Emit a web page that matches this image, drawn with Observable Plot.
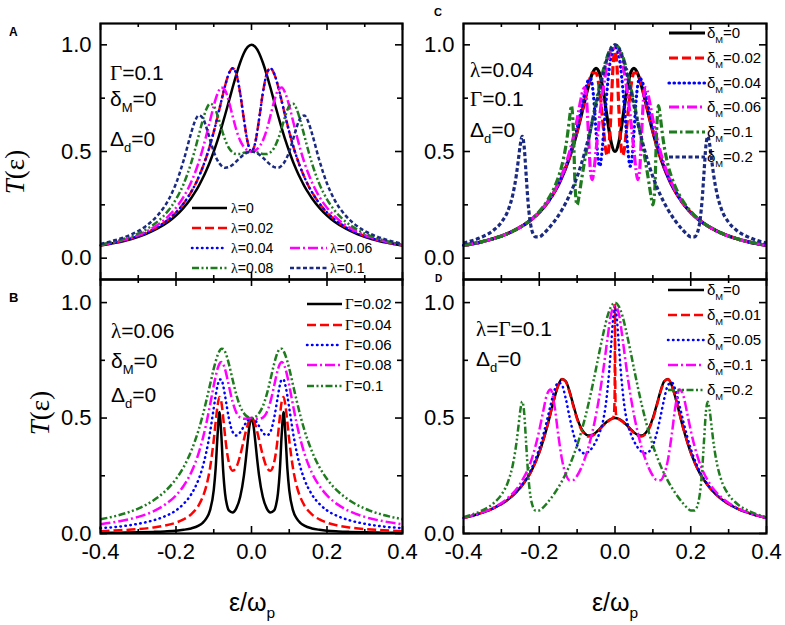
<!DOCTYPE html>
<html><head><meta charset="utf-8">
<script src="https://cdn.jsdelivr.net/npm/d3@7"></script>
<script src="https://cdn.jsdelivr.net/npm/@observablehq/plot@0.6"></script>
<style>
body{margin:0;background:#fff;}
#fig{position:relative;width:785px;height:625px;overflow:hidden;}
#fig svg{position:absolute;}
</style></head><body><div id="fig"></div>
<script>
// ---------- tick values ----------
const xMajor = [-0.4,-0.2,0,0.2,0.4];
const xMinor = [-0.3,-0.1,0.1,0.3];
const yMajor = [0,0.5,1];
const yMinor = [0.25,0.75];

// ---------- panel A (Gamma=0.1, deltaM=0), lambda series ----------
const xA = [-0.4,-0.36,-0.32,-0.28,-0.25,-0.22,-0.2,-0.18,-0.16,-0.15,-0.14,-0.13,-0.12,-0.11,-0.1,-0.09,-0.08,-0.07,-0.06,-0.05,-0.04,-0.03,-0.02,-0.01,0,0.01,0.02,0.03,0.04,0.05,0.06,0.07,0.08,0.09,0.1,0.11,0.12,0.13,0.14,0.15,0.16,0.18,0.2,0.22,0.25,0.28,0.32,0.36,0.4];
const A_lam0 = [0.059,0.072,0.089,0.113,0.138,0.171,0.2,0.236,0.281,0.308,0.338,0.372,0.41,0.452,0.5,0.552,0.61,0.671,0.735,0.8,0.862,0.917,0.962,0.99,1,0.99,0.962,0.917,0.862,0.8,0.735,0.671,0.61,0.552,0.5,0.452,0.41,0.372,0.338,0.308,0.281,0.236,0.2,0.171,0.138,0.113,0.089,0.072,0.059];
const A_lam002 = [0.06,0.073,0.092,0.118,0.145,0.181,0.214,0.256,0.31,0.342,0.38,0.423,0.472,0.528,0.592,0.662,0.736,0.808,0.865,0.89,0.862,0.773,0.65,0.542,0.5,0.542,0.65,0.773,0.862,0.89,0.865,0.808,0.736,0.662,0.592,0.528,0.472,0.423,0.38,0.342,0.31,0.256,0.214,0.181,0.145,0.118,0.092,0.073,0.06];
const A_lam004 = [0.06,0.073,0.092,0.118,0.145,0.181,0.214,0.256,0.31,0.342,0.38,0.423,0.472,0.528,0.592,0.662,0.736,0.808,0.865,0.89,0.862,0.773,0.65,0.542,0.5,0.542,0.65,0.773,0.862,0.89,0.865,0.808,0.736,0.662,0.592,0.528,0.472,0.423,0.38,0.342,0.31,0.256,0.214,0.181,0.145,0.118,0.092,0.073,0.06];
const A_lam006 = [0.062,0.076,0.095,0.124,0.154,0.197,0.236,0.287,0.356,0.399,0.449,0.507,0.573,0.643,0.714,0.771,0.8,0.787,0.735,0.666,0.6,0.551,0.521,0.505,0.5,0.505,0.521,0.551,0.6,0.666,0.735,0.787,0.8,0.771,0.714,0.643,0.573,0.507,0.449,0.399,0.356,0.287,0.236,0.197,0.154,0.124,0.095,0.076,0.062];
const A_lam008 = [0.064,0.079,0.101,0.134,0.17,0.224,0.276,0.347,0.446,0.507,0.574,0.641,0.697,0.724,0.714,0.669,0.61,0.556,0.517,0.496,0.488,0.488,0.494,0.498,0.5,0.498,0.494,0.488,0.488,0.496,0.517,0.556,0.61,0.669,0.714,0.724,0.697,0.641,0.574,0.507,0.446,0.347,0.276,0.224,0.17,0.134,0.101,0.079,0.064];
const A_lam01 = [0.067,0.085,0.11,0.15,0.198,0.273,0.35,0.457,0.586,0.641,0.669,0.659,0.616,0.556,0.5,0.458,0.434,0.424,0.427,0.438,0.454,0.471,0.486,0.496,0.5,0.496,0.486,0.471,0.454,0.438,0.427,0.424,0.434,0.458,0.5,0.556,0.616,0.659,0.669,0.641,0.586,0.457,0.35,0.273,0.198,0.15,0.11,0.085,0.067];

// ---------- panel B (lambda=0.06), Gamma series ----------
const xB = [-0.4,-0.35,-0.3,-0.26,-0.23,-0.2,-0.18,-0.16,-0.14,-0.13,-0.12,-0.11,-0.1,-0.095,-0.09,-0.085,-0.08,-0.075,-0.07,-0.065,-0.06,-0.05,-0.04,-0.03,-0.02,-0.015,-0.01,-0.005,0,0.005,0.01,0.015,0.02,0.03,0.04,0.05,0.06,0.065,0.07,0.075,0.08,0.085,0.09,0.095,0.1,0.11,0.12,0.13,0.14,0.16,0.18,0.2,0.23,0.26,0.3,0.35,0.4];
const B_g002 = [0.0026,0.0035,0.005,0.007,0.009,0.012,0.016,0.022,0.034,0.045,0.064,0.1,0.188,0.281,0.424,0.526,0.429,0.271,0.173,0.123,0.1,0.091,0.11,0.158,0.252,0.321,0.4,0.471,0.5,0.471,0.4,0.321,0.252,0.158,0.11,0.091,0.1,0.123,0.173,0.271,0.429,0.526,0.424,0.281,0.188,0.1,0.064,0.045,0.034,0.022,0.016,0.012,0.009,0.007,0.005,0.0035,0.0026];
const B_g004 = [0.01,0.014,0.019,0.026,0.034,0.047,0.061,0.083,0.122,0.155,0.204,0.282,0.405,0.482,0.553,0.591,0.571,0.503,0.422,0.354,0.308,0.272,0.288,0.338,0.407,0.442,0.472,0.493,0.5,0.493,0.472,0.442,0.407,0.338,0.288,0.272,0.308,0.354,0.422,0.503,0.571,0.591,0.553,0.482,0.405,0.282,0.204,0.155,0.122,0.083,0.061,0.047,0.034,0.026,0.019,0.014,0.01];
const B_g006 = [0.023,0.03,0.042,0.057,0.074,0.1,0.128,0.169,0.235,0.284,0.35,0.437,0.543,0.596,0.64,0.666,0.667,0.641,0.596,0.546,0.5,0.44,0.424,0.438,0.465,0.479,0.49,0.497,0.5,0.497,0.49,0.479,0.465,0.438,0.424,0.44,0.5,0.546,0.596,0.641,0.667,0.666,0.64,0.596,0.543,0.437,0.35,0.284,0.235,0.169,0.128,0.1,0.074,0.057,0.042,0.03,0.023];
const B_g008 = [0.04,0.053,0.072,0.096,0.124,0.165,0.206,0.263,0.348,0.405,0.474,0.555,0.641,0.68,0.713,0.735,0.743,0.734,0.711,0.678,0.64,0.57,0.523,0.502,0.497,0.497,0.499,0.5,0.5,0.5,0.499,0.497,0.497,0.502,0.523,0.57,0.64,0.678,0.711,0.734,0.743,0.735,0.713,0.68,0.641,0.555,0.474,0.405,0.348,0.263,0.206,0.165,0.124,0.096,0.072,0.053,0.04];
const B_g01 = [0.062,0.08,0.108,0.143,0.181,0.236,0.287,0.356,0.449,0.507,0.573,0.643,0.714,0.745,0.771,0.79,0.8,0.799,0.787,0.765,0.735,0.666,0.6,0.551,0.521,0.511,0.505,0.501,0.5,0.501,0.505,0.511,0.521,0.551,0.6,0.666,0.735,0.765,0.787,0.799,0.8,0.79,0.771,0.745,0.714,0.643,0.573,0.507,0.449,0.356,0.287,0.236,0.181,0.143,0.108,0.08,0.062];

// ---------- panel C (lambda=0.04, Gamma=0.1), deltaM series ----------
const C_d0 = A_lam004.slice();
const xC002 = [-0.4,-0.36,-0.32,-0.28,-0.25,-0.22,-0.2,-0.18,-0.16,-0.14,-0.12,-0.11,-0.1,-0.09,-0.08,-0.07,-0.06,-0.05,-0.04,-0.03,-0.025,-0.02,-0.015,-0.01,-0.005,0,0.005,0.01,0.015,0.02,0.025,0.03,0.04,0.05,0.06,0.07,0.08,0.09,0.1,0.11,0.12,0.14,0.16,0.18,0.2,0.22,0.25,0.28,0.32,0.36,0.4];
const C_d002 = [0.06,0.073,0.092,0.118,0.145,0.182,0.214,0.256,0.31,0.381,0.474,0.531,0.596,0.668,0.744,0.816,0.868,0.868,0.777,0.597,0.513,0.481,0.543,0.707,0.906,0.97,0.906,0.707,0.543,0.481,0.513,0.597,0.777,0.868,0.868,0.816,0.744,0.668,0.596,0.531,0.474,0.381,0.31,0.256,0.214,0.182,0.145,0.118,0.092,0.073,0.06];
const xC004 = [-0.4,-0.36,-0.32,-0.28,-0.25,-0.22,-0.2,-0.18,-0.16,-0.14,-0.12,-0.11,-0.1,-0.09,-0.08,-0.07,-0.065,-0.06,-0.055,-0.05,-0.045,-0.04,-0.035,-0.03,-0.025,-0.02,-0.01,0,0.01,0.02,0.025,0.03,0.035,0.04,0.045,0.05,0.055,0.06,0.065,0.07,0.08,0.09,0.1,0.11,0.12,0.14,0.16,0.18,0.2,0.22,0.25,0.28,0.32,0.36,0.4];
const C_d004 = [0.06,0.073,0.092,0.118,0.145,0.182,0.215,0.257,0.312,0.384,0.481,0.542,0.612,0.69,0.772,0.836,0.842,0.81,0.724,0.59,0.468,0.431,0.487,0.591,0.704,0.806,0.951,0.99,0.951,0.806,0.704,0.591,0.487,0.431,0.468,0.59,0.724,0.81,0.842,0.836,0.772,0.69,0.612,0.542,0.481,0.384,0.312,0.257,0.215,0.182,0.145,0.118,0.092,0.073,0.06];
const xC006 = [-0.4,-0.36,-0.32,-0.28,-0.25,-0.22,-0.2,-0.18,-0.16,-0.14,-0.12,-0.11,-0.1,-0.09,-0.085,-0.08,-0.075,-0.07,-0.065,-0.06,-0.055,-0.05,-0.04,-0.03,-0.02,-0.01,0,0.01,0.02,0.03,0.04,0.05,0.055,0.06,0.065,0.07,0.075,0.08,0.085,0.09,0.1,0.11,0.12,0.14,0.16,0.18,0.2,0.22,0.25,0.28,0.32,0.36,0.4];
const C_d006 = [0.06,0.073,0.092,0.118,0.145,0.182,0.216,0.259,0.315,0.391,0.497,0.566,0.65,0.745,0.785,0.799,0.74,0.58,0.413,0.368,0.42,0.504,0.671,0.808,0.912,0.978,0.985,0.978,0.912,0.808,0.671,0.504,0.42,0.368,0.413,0.58,0.74,0.799,0.785,0.745,0.65,0.566,0.497,0.391,0.315,0.259,0.216,0.182,0.145,0.118,0.092,0.073,0.06];
const xC01 = [-0.4,-0.36,-0.32,-0.28,-0.25,-0.22,-0.2,-0.18,-0.16,-0.15,-0.14,-0.13,-0.125,-0.12,-0.115,-0.11,-0.105,-0.1,-0.095,-0.09,-0.08,-0.07,-0.06,-0.05,-0.04,-0.03,-0.02,-0.01,0,0.01,0.02,0.03,0.04,0.05,0.06,0.07,0.08,0.09,0.095,0.1,0.105,0.11,0.115,0.12,0.125,0.13,0.14,0.15,0.16,0.18,0.2,0.22,0.25,0.28,0.32,0.36,0.4];
const C_d01 = [0.06,0.074,0.092,0.118,0.146,0.184,0.219,0.266,0.332,0.377,0.436,0.523,0.583,0.657,0.715,0.602,0.322,0.25,0.291,0.349,0.458,0.553,0.644,0.731,0.814,0.888,0.948,0.987,1,0.987,0.948,0.888,0.814,0.731,0.644,0.553,0.458,0.349,0.291,0.25,0.322,0.602,0.715,0.657,0.583,0.523,0.436,0.377,0.332,0.266,0.219,0.184,0.146,0.118,0.092,0.074,0.06];
const x02 = [-0.4,-0.36,-0.32,-0.3,-0.28,-0.27,-0.26,-0.255,-0.25,-0.245,-0.24,-0.235,-0.23,-0.22,-0.21,-0.2,-0.19,-0.18,-0.16,-0.14,-0.12,-0.1,-0.09,-0.08,-0.07,-0.06,-0.05,-0.04,-0.03,-0.02,-0.01,0,0.01,0.02,0.03,0.04,0.05,0.06,0.07,0.08,0.09,0.1,0.12,0.14,0.16,0.18,0.19,0.2,0.21,0.22,0.23,0.235,0.24,0.245,0.25,0.255,0.26,0.27,0.28,0.3,0.32,0.36,0.4];
const C_d02 = [0.071,0.093,0.132,0.168,0.235,0.296,0.395,0.463,0.533,0.571,0.526,0.401,0.272,0.134,0.1,0.1,0.112,0.13,0.173,0.227,0.295,0.382,0.435,0.495,0.562,0.636,0.715,0.796,0.873,0.94,0.984,1,0.984,0.94,0.873,0.796,0.715,0.636,0.562,0.495,0.435,0.382,0.295,0.227,0.173,0.13,0.112,0.1,0.1,0.134,0.272,0.401,0.526,0.571,0.533,0.463,0.395,0.296,0.235,0.168,0.132,0.093,0.071];

// ---------- panel D (lambda=Gamma=0.1), deltaM series ----------
const D_d0 = A_lam01.slice();
const xD001 = [-0.4,-0.36,-0.32,-0.28,-0.25,-0.22,-0.2,-0.18,-0.16,-0.15,-0.14,-0.13,-0.12,-0.11,-0.1,-0.09,-0.08,-0.07,-0.06,-0.05,-0.04,-0.03,-0.02,-0.015,-0.01,-0.005,-0.003,-0.001,-0.0005,0,0.0005,0.001,0.003,0.005,0.01,0.015,0.02,0.03,0.04,0.05,0.06,0.07,0.08,0.09,0.1,0.11,0.12,0.13,0.14,0.15,0.16,0.18,0.2,0.22,0.25,0.28,0.32,0.36,0.4];
const D_d001 = [0.067,0.085,0.11,0.15,0.198,0.273,0.351,0.458,0.587,0.641,0.668,0.657,0.612,0.551,0.495,0.453,0.429,0.42,0.423,0.435,0.451,0.468,0.484,0.49,0.495,0.502,0.511,0.598,0.748,0.99,0.748,0.598,0.511,0.502,0.495,0.49,0.484,0.468,0.451,0.435,0.423,0.42,0.429,0.453,0.495,0.551,0.612,0.657,0.668,0.641,0.587,0.458,0.351,0.273,0.198,0.15,0.11,0.085,0.067];
const xD005 = [-0.4,-0.36,-0.32,-0.28,-0.25,-0.22,-0.2,-0.18,-0.17,-0.16,-0.15,-0.14,-0.13,-0.12,-0.11,-0.1,-0.09,-0.08,-0.07,-0.06,-0.055,-0.05,-0.045,-0.04,-0.035,-0.03,-0.025,-0.02,-0.015,-0.01,-0.005,0,0.005,0.01,0.015,0.02,0.025,0.03,0.035,0.04,0.045,0.05,0.055,0.06,0.07,0.08,0.09,0.1,0.11,0.12,0.13,0.14,0.15,0.16,0.17,0.18,0.2,0.22,0.25,0.28,0.32,0.36,0.4];
const D_d005 = [0.067,0.085,0.111,0.152,0.201,0.282,0.367,0.487,0.556,0.619,0.654,0.643,0.584,0.505,0.433,0.382,0.355,0.347,0.354,0.372,0.385,0.4,0.418,0.44,0.465,0.5,0.55,0.62,0.71,0.82,0.93,0.985,0.93,0.82,0.71,0.62,0.55,0.5,0.465,0.44,0.418,0.4,0.385,0.372,0.354,0.347,0.355,0.382,0.433,0.505,0.584,0.643,0.654,0.619,0.556,0.487,0.367,0.282,0.201,0.152,0.111,0.085,0.067];
const xD01 = [-0.4,-0.36,-0.32,-0.28,-0.25,-0.22,-0.2,-0.19,-0.18,-0.17,-0.16,-0.15,-0.14,-0.13,-0.12,-0.11,-0.1,-0.09,-0.08,-0.07,-0.06,-0.05,-0.04,-0.03,-0.02,-0.01,0,0.01,0.02,0.03,0.04,0.05,0.06,0.07,0.08,0.09,0.1,0.11,0.12,0.13,0.14,0.15,0.16,0.17,0.18,0.19,0.2,0.22,0.25,0.28,0.32,0.36,0.4];
const D_d01 = [0.068,0.086,0.113,0.158,0.216,0.322,0.446,0.526,0.6,0.624,0.556,0.43,0.321,0.257,0.231,0.232,0.25,0.281,0.323,0.374,0.438,0.515,0.608,0.719,0.843,0.953,0.985,0.953,0.843,0.719,0.608,0.515,0.438,0.374,0.323,0.281,0.25,0.232,0.231,0.257,0.321,0.43,0.556,0.624,0.6,0.526,0.446,0.322,0.216,0.158,0.113,0.086,0.068];
const D_d02 = C_d02.slice();

// ---------- styles ----------
const SANS = "Liberation Sans, Arial, Helvetica, sans-serif";
const SERIF = "Liberation Serif, Times New Roman, serif";
const ST = {
  black:{color:"#000000", dash:null},
  red:{color:"#ff0000", dash:"9,4"},
  blue:{color:"#0000ff", dash:"0.5,4.5", cap:"round"},
  mag:{color:"#ff00ff", dash:"10,3,2,3"},
  grn3:{color:"#1e7b1e", dash:"7,2.5,2,2.5,2,2.5"},
  grn2:{color:"#1e7b1e", dash:"8,3,2.5,3"},
  navy:{color:"#1a2a80", dash:"4,2.5"}
};

const fig = document.getElementById("fig");

function panel(o) {
  const {left, top, mL, mR, mT, mB, fw, fh, yDomain, series, lw, xLabels} = o;
  const marks = [];
  for (const s of series) {
    if (s.x.length !== s.y.length) console.error("length mismatch", s.x.length, s.y.length);
    marks.push(Plot.line(s.y, {x: s.x, y: s.y, stroke: s.st.color, strokeWidth: lw,
      strokeDasharray: s.st.dash || undefined, strokeLinecap: s.st.cap || "butt", curve: "monotone-x"}));
  }
  const tk = (arr, len, side) => {
    if (side === "b") return Plot.ruleX(arr, {x: d => d, insetTop: fh - len, stroke: "#000", strokeWidth: 1.6});
    if (side === "t") return Plot.ruleX(arr, {x: d => d, insetBottom: fh - len, stroke: "#000", strokeWidth: 1.6});
    if (side === "l") return Plot.ruleY(arr, {y: d => d, insetRight: fw - len, stroke: "#000", strokeWidth: 1.6});
    return Plot.ruleY(arr, {y: d => d, insetLeft: fw - len, stroke: "#000", strokeWidth: 1.6});
  };
  marks.push(tk(xMajor, 7, "b"), tk(xMajor, 7, "t"), tk(xMinor, 4, "b"), tk(xMinor, 4, "t"));
  marks.push(tk(yMajor, 7, "l"), tk(yMajor, 7, "r"), tk(yMinor, 5, "l"), tk(yMinor, 5, "r"));
  marks.push(Plot.frame({stroke: "#000", strokeWidth: 2.2}));
  marks.push(Plot.axisY({ticks: yMajor, anchor: "left", tickSize: 0, tickPadding: 9,
    tickFormat: d => d.toFixed(1), fontSize: 22, fontFamily: SANS, fill: "#000"}));
  if (xLabels) marks.push(Plot.axisX({ticks: xMajor, anchor: "bottom", tickSize: 0, tickPadding: 10,
    tickFormat: d => d.toFixed(1), fontSize: 22, fontFamily: SANS, fill: "#000"}));
  const svg = Plot.plot({
    width: mL + fw + mR, height: mT + fh + mB,
    marginLeft: mL, marginRight: mR, marginTop: mT, marginBottom: mB,
    x: {domain: [-0.4, 0.4], axis: null},
    y: {domain: yDomain, axis: null},
    style: {background: "transparent", fontFamily: SANS, fontSize: "22px", color: "#000", overflow: "visible"},
    marks
  });
  svg.style.position = "absolute";
  svg.style.left = left + "px";
  svg.style.top = top + "px";
  fig.appendChild(svg);
}

panel({left: 0, top: 0, mL: 100, mR: 8, mT: 23, mB: 8, fw: 302, fh: 256, yDomain: [-0.1, 1.1], lw: 2.5, xLabels: false,
  series: [
    {x: xA, y: A_lam0, st: ST.black}, {x: xA, y: A_lam002, st: ST.red}, {x: xA, y: A_lam004, st: ST.blue},
    {x: xA, y: A_lam006, st: ST.mag}, {x: xA, y: A_lam008, st: ST.grn3}, {x: xA, y: A_lam01, st: ST.navy}]});
panel({left: 0, top: 256, mL: 100, mR: 8, mT: 23, mB: 44, fw: 302, fh: 254, yDomain: [0, 1.1], lw: 2.5, xLabels: true,
  series: [
    {x: xB, y: B_g002, st: ST.black}, {x: xB, y: B_g004, st: ST.red}, {x: xB, y: B_g006, st: ST.blue},
    {x: xB, y: B_g008, st: ST.mag}, {x: xB, y: B_g01, st: ST.grn3}]});
panel({left: 360, top: 0, mL: 103, mR: 8, mT: 23, mB: 8, fw: 303, fh: 256, yDomain: [-0.1, 1.1], lw: 3.2, xLabels: false,
  series: [
    {x: xA, y: C_d0, st: ST.black}, {x: xC002, y: C_d002, st: ST.red}, {x: xC004, y: C_d004, st: ST.blue},
    {x: xC006, y: C_d006, st: ST.mag}, {x: xC01, y: C_d01, st: ST.grn2}, {x: x02, y: C_d02, st: ST.navy}]});
panel({left: 360, top: 256, mL: 103, mR: 8, mT: 23, mB: 44, fw: 303, fh: 254, yDomain: [0, 1.1], lw: 2.5, xLabels: true,
  series: [
    {x: xA, y: D_d0, st: ST.black}, {x: xD001, y: D_d001, st: ST.red}, {x: xD005, y: D_d005, st: ST.blue},
    {x: xD01, y: D_d01, st: ST.mag}, {x: x02, y: D_d02, st: ST.grn3}]});

// ---------- overlay: texts and legends ----------
const ov = d3.select("#fig").append("svg").attr("width", 785).attr("height", 625)
  .style("left", "0px").style("top", "0px");

function rich(x, y, parts, size, opt = {}) {
  const t = ov.append("text").attr("x", x).attr("y", y).attr("font-size", size)
    .attr("font-family", opt.family || SANS).attr("fill", "#000");
  if (opt.anchor) t.attr("text-anchor", opt.anchor);
  if (opt.weight) t.attr("font-weight", opt.weight);
  if (opt.transform) t.attr("transform", opt.transform);
  let down = false;
  for (const [s, kind] of parts) {
    const sp = t.append("tspan").text(s);
    if (kind === "sub") {
      sp.attr("font-size", size * 0.62).attr("dy", size * 0.28);
      down = true;
    } else {
      if (down) { sp.attr("dy", -size * 0.28); down = false; }
      if (kind === "serif") sp.attr("font-family", SERIF);
      if (kind === "it") sp.attr("font-family", SERIF).attr("font-style", "italic");
    }
  }
  return t;
}

function legend(x1, x2, tx, y, st, lw, parts, size) {
  ov.append("line").attr("x1", x1).attr("x2", x2).attr("y1", y).attr("y2", y)
    .attr("stroke", st.color).attr("stroke-width", lw)
    .attr("stroke-dasharray", st.dash || null).attr("stroke-linecap", st.cap || "butt");
  rich(tx, y + size * 0.36, parts, size);
}

// panel letters
rich(9, 36, [["A"]], 12, {weight: "bold"});
rich(9, 302, [["B"]], 13, {weight: "bold"});
rich(434, 16, [["C"]], 11, {weight: "bold"});
rich(435, 282, [["D"]], 10, {weight: "bold"});

// annotations
rich(110, 80, [["Γ", "serif"], ["=0.1"]], 21);
rich(110, 106, [["δ"], ["M", "sub"], ["=0"]], 21);
rich(110, 146, [["Δ"], ["d", "sub"], ["=0"]], 21);

rich(111, 338, [["λ", "serif"], ["=0.06"]], 21);
rich(111, 368, [["δ"], ["M", "sub"], ["=0"]], 21);
rich(111, 402, [["Δ"], ["d", "sub"], ["=0"]], 21);

rich(470, 77, [["λ", "serif"], ["=0.04"]], 21);
rich(470, 106, [["Γ", "serif"], ["=0.1"]], 21);
rich(470, 137, [["Δ"], ["d", "sub"], ["=0"]], 21);

rich(476, 336, [["λ", "serif"], ["=", ""], ["Γ", "serif"], ["=0.1"]], 21);
rich(476, 366, [["Δ"], ["d", "sub"], ["=0"]], 21);

// axis titles
rich(0, 0, [["T", "it"], ["(ε)", "serif"]], 27, {anchor: "middle", transform: "translate(24,172) rotate(-90)"});
rich(0, 0, [["T", "it"], ["(ε)", "serif"]], 27, {anchor: "middle", transform: "translate(49,413) rotate(-90)"});
rich(252, 611, [["ε/ω"], ["p", "sub"]], 25, {anchor: "middle"});
rich(615, 611, [["ε/ω"], ["p", "sub"]], 25, {anchor: "middle"});

// legend A
const lamTxt = v => [["λ", "serif"], ["=" + v]];
legend(192, 227, 231, 208, ST.black, 2.5, lamTxt("0"), 14);
legend(192, 227, 231, 228, ST.red, 2.5, lamTxt("0.02"), 14);
legend(192, 227, 231, 248, ST.blue, 2.5, lamTxt("0.04"), 14);
legend(290, 327, 330, 248, ST.mag, 2.5, lamTxt("0.06"), 14);
legend(192, 227, 231, 268, ST.grn3, 2.5, lamTxt("0.08"), 14);
legend(290, 327, 330, 268, ST.navy, 2.5, lamTxt("0.1"), 14);

// legend B
const gamTxt = v => [["Γ", "serif"], ["=" + v]];
[["0.02", ST.black, 304], ["0.04", ST.red, 325], ["0.06", ST.blue, 345], ["0.08", ST.mag, 365], ["0.1", ST.grn3, 386]]
  .forEach(([v, st, y]) => legend(307, 342, 345, y, st, 2.5, gamTxt(v), 15));

// legend C
const dTxt = v => [["δ"], ["M", "sub"], ["=" + v]];
[["0", ST.black, 33], ["0.02", ST.red, 58], ["0.04", ST.blue, 83], ["0.06", ST.mag, 107], ["0.1", ST.grn2, 132], ["0.2", ST.navy, 157]]
  .forEach(([v, st, y]) => legend(669, 705, 707, y, st, 3.2, dTxt(v), 15));

// legend D
[["0", ST.black, 290], ["0.01", ST.red, 315], ["0.05", ST.blue, 340], ["0.1", ST.mag, 365], ["0.2", ST.grn3, 390]]
  .forEach(([v, st, y]) => legend(668, 704, 707, y, st, 2.5, dTxt(v), 15));
</script>
</body></html>
